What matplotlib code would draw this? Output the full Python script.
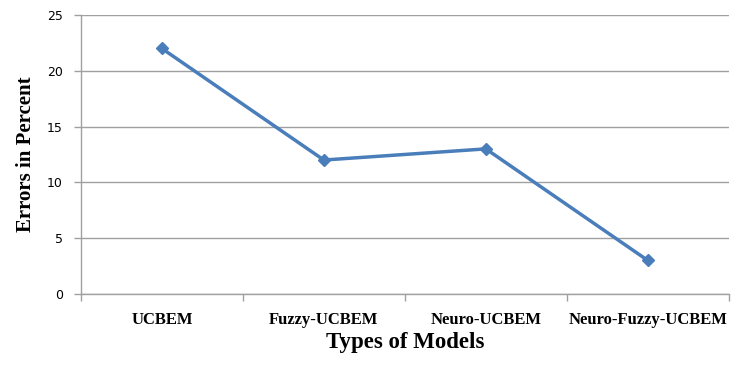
import matplotlib
matplotlib.use("Agg")
import matplotlib.pyplot as plt
from matplotlib.ticker import FixedLocator, NullFormatter

categories = ["UCBEM", "Fuzzy-UCBEM", "Neuro-UCBEM", "Neuro-Fuzzy-UCBEM"]
errors = [22, 12, 13, 3]
yticks = [0, 5, 10, 15, 20, 25]

fig = plt.figure(figsize=(7.49, 3.66), dpi=100)
ax = fig.add_axes([0.108, 0.197, 0.865, 0.762])

x = list(range(len(categories)))
ax.plot(x, errors, color="#4a7ebb", lw=2.5, marker="D", ms=6, zorder=3)

ax.set_xlim(-0.5, len(categories) - 0.5)
ax.set_ylim(0, 25)
ax.set_yticks(yticks)
ax.yaxis.grid(True, color="#a0a0a0", lw=1)
ax.set_axisbelow(True)

ax.set_xticks(x)
ax.set_xticklabels(categories, fontfamily="Liberation Serif", fontweight="bold", fontsize=12)
ax.xaxis.set_minor_locator(FixedLocator([i - 0.5 for i in range(len(categories) + 1)]))
ax.xaxis.set_minor_formatter(NullFormatter())
ax.tick_params(axis="x", which="major", length=0, pad=13)
ax.tick_params(axis="x", which="minor", length=5, color="#a0a0a0", width=1)
ax.tick_params(axis="y", length=5, color="#a0a0a0", width=1, labelsize=9, pad=8)

for s in ["top", "right"]:
    ax.spines[s].set_visible(False)
for s in ["left", "bottom"]:
    ax.spines[s].set_color("#a0a0a0")
    ax.spines[s].set_linewidth(1)

ax.set_xlabel("Types of Models", fontfamily="Liberation Serif", fontweight="bold", fontsize=16.5, labelpad=3)
ax.set_ylabel("Errors in Percent", fontfamily="Liberation Serif", fontweight="bold", fontsize=15, labelpad=8)

fig.savefig("out.png", dpi=100)
